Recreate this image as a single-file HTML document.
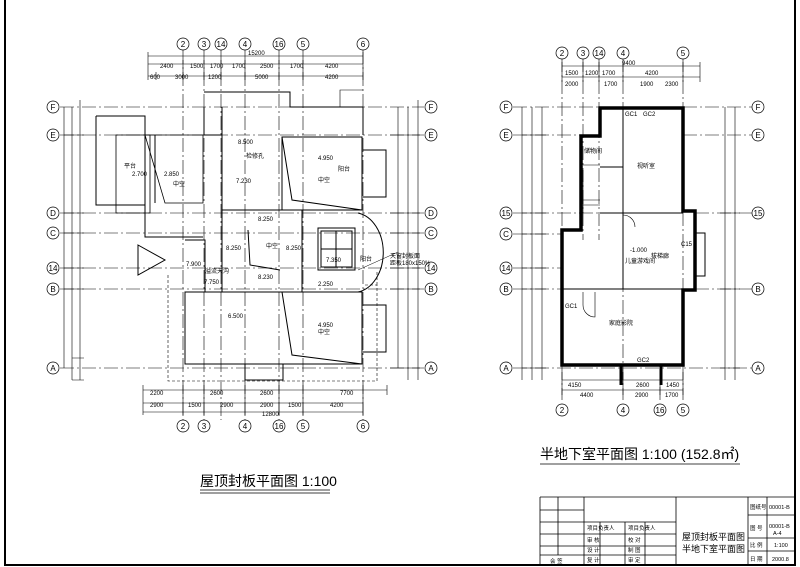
<!DOCTYPE html>
<html><head><meta charset="utf-8"><style>
html,body{margin:0;padding:0;background:#fff}
svg{display:block}
text{font-family:"Liberation Sans","Noto Sans CJK SC",sans-serif;fill:#000}
</style></head><body>
<svg width="800" height="567" viewBox="0 0 800 567" xmlns="http://www.w3.org/2000/svg">
<rect width="800" height="567" fill="#fff"/>
<!-- border -->
<path d="M5 0V565H795V0" fill="none" stroke="#000" stroke-width="2"/>

<!-- LEFT PLAN axes -->
<g stroke="#000" stroke-width="0.6" fill="none">
<!-- vertical axes -->
<path d="M183 50V420M204 50V420M221 50V420M245 50V420M279 50V420M303 50V420M363 50V420" stroke-dasharray="14 3 2 3"/>
<path d="M60 107H424M60 135H424M60 213H424M60 233H424M60 268H424M60 289H424M60 368H424" stroke-dasharray="14 3 2 3"/>
<!-- top dims -->
<path d="M148 56H363M148 64H363M148 76H363M148 52V80M183 60V80M204 60V80M221 60V80M245 60V80M279 60V80M303 60V80M363 52V80M156 72V80"/>
<!-- bottom dims -->
<path d="M143 390H387M143 403H363M143 412H363M143 385V415M387 385V395M183 385V415M204 385V415M245 385V415M279 385V415M303 385V415M363 385V415"/>
<!-- left dims -->
<path d="M64 107V368M72 107V380M80 100V380M64 135H84M64 213H84M64 233H84M64 268H84M64 289H84M72 358H84M72 380H84"/>
<!-- right dims -->
<path d="M398 107V368M408 107V380M418 100V380M390 135H420M390 213H420M390 233H420M390 268H420M390 289H420M390 368H420"/>
</g>
<!-- Left plan walls -->
<g stroke="#000" stroke-width="1" fill="none">
<path d="M96 116H145V237H203"/>
<path d="M96 116V205H145"/>
<path d="M116 135H150V213H116Z" stroke-width="0.8"/>
<path d="M145 135H203V203H165Z" stroke-width="0.8"/>
<path d="M155 135V203"/>
<path d="M204 92H290V107H363V135"/>
<path d="M204 107V135H222"/>
<path d="M222 107V210H302V292"/>
<path d="M282 137H362V210H282Z"/>
<path d="M282 137L292 200L362 210"/>
<path d="M222 210V292H302"/>
<path d="M248 230L250 265L280 270"/>
<path d="M185 292H362V364H185Z"/>
<path d="M282 292L292 355L362 364"/>
<path d="M185 240H205V292H185"/>
<path d="M318 228H355V270H318Z"/><path d="M321 231H352V267H321Z"/><path d="M336 231V267M321 249H352"/>
<path d="M358 213A30 40 0 0 1 358 292"/>
<path d="M363 150H386V197H363M363 305H386V352H363"/>
<path d="M138 245L165 260L138 275Z"/>
<path d="M245 364V380H283V364"/>
</g>
<path d="M168 275V381H377V285H363M377 285V270" fill="none" stroke="#000" stroke-width="0.6" stroke-dasharray="3 2"/>
<path d="M363 90H340V107" fill="none" stroke="#000" stroke-width="0.6"/>
<!-- left axis circles -->
<g fill="#fff" stroke="#000" stroke-width="0.7">
<circle cx="183" cy="44" r="6"/><circle cx="204" cy="44" r="6"/><circle cx="221" cy="44" r="6"/><circle cx="245" cy="44" r="6"/><circle cx="279" cy="44" r="6"/><circle cx="303" cy="44" r="6"/><circle cx="363" cy="44" r="6"/>
<circle cx="183" cy="426" r="6"/><circle cx="204" cy="426" r="6"/><circle cx="245" cy="426" r="6"/><circle cx="279" cy="426" r="6"/><circle cx="303" cy="426" r="6"/><circle cx="363" cy="426" r="6"/>
<circle cx="53" cy="107" r="6"/><circle cx="53" cy="135" r="6"/><circle cx="53" cy="213" r="6"/><circle cx="53" cy="233" r="6"/><circle cx="53" cy="268" r="6"/><circle cx="53" cy="289" r="6"/><circle cx="53" cy="368" r="6"/>
<circle cx="431" cy="107" r="6"/><circle cx="431" cy="135" r="6"/><circle cx="431" cy="213" r="6"/><circle cx="431" cy="233" r="6"/><circle cx="431" cy="268" r="6"/><circle cx="431" cy="289" r="6"/><circle cx="431" cy="368" r="6"/>
</g>
<g font-size="8" text-anchor="middle">
<text x="183" y="47">2</text><text x="204" y="47">3</text><text x="221" y="47">14</text><text x="245" y="47">4</text><text x="279" y="47">16</text><text x="303" y="47">5</text><text x="363" y="47">6</text>
<text x="183" y="429">2</text><text x="204" y="429">3</text><text x="245" y="429">4</text><text x="279" y="429">16</text><text x="303" y="429">5</text><text x="363" y="429">6</text>
<text x="53" y="110">F</text><text x="53" y="138">E</text><text x="53" y="216">D</text><text x="53" y="236">C</text><text x="53" y="271">14</text><text x="53" y="292">B</text><text x="53" y="371">A</text>
<text x="431" y="110">F</text><text x="431" y="138">E</text><text x="431" y="216">D</text><text x="431" y="236">C</text><text x="431" y="271">14</text><text x="431" y="292">B</text><text x="431" y="371">A</text>
</g>
<g font-size="6">
<text x="248" y="55">15200</text><text x="160" y="68">2400</text><text x="190" y="68">1500</text><text x="210" y="68">1700</text><text x="232" y="68">1700</text><text x="260" y="68">2500</text><text x="290" y="68">1700</text><text x="325" y="68">4200</text>
<text x="150" y="79">600</text><text x="175" y="79">3000</text><text x="208" y="79">1200</text><text x="255" y="79">5000</text><text x="325" y="79">4200</text>
<text x="150" y="395">2200</text><text x="210" y="395">2600</text><text x="260" y="395">2600</text><text x="340" y="395">7700</text>
<text x="150" y="407">2900</text><text x="188" y="407">1500</text><text x="220" y="407">2900</text><text x="260" y="407">2900</text><text x="288" y="407">1500</text><text x="330" y="407">4200</text>
<text x="262" y="416">12800</text>
<text x="238" y="144">8.500</text><text x="318" y="160">4.950</text><text x="132" y="176">2.700</text><text x="164" y="176">2.850</text>
<text x="258" y="221">8.250</text><text x="226" y="250">8.250</text><text x="286" y="250">8.250</text><text x="186" y="266">7.900</text><text x="326" y="262">7.350</text>
<text x="258" y="279">8.230</text><text x="204" y="284">7.750</text><text x="318" y="286">2.250</text><text x="228" y="318">6.500</text><text x="318" y="327">4.950</text>
<text x="236" y="183">7.230</text><text x="246" y="158">检修孔</text><text x="266" y="248">中空</text><text x="205" y="273">溢流天沟</text>
<text x="124" y="168">平台</text><text x="173" y="186">中空</text><text x="318" y="182">中空</text><text x="318" y="334">中空</text><text x="338" y="171">阳台</text><text x="360" y="261">阳台</text>
<text x="390" y="258">天窗封板面</text><text x="390" y="265">距板180x150%</text>
</g>
<path d="M358 270L398 252" stroke="#000" stroke-width="0.5"/>

<!-- RIGHT PLAN -->
<g stroke="#000" stroke-width="0.6" fill="none">
<path d="M562 58V400M583 58V240M599 58V240M623 58V400M683 58V400M660 365V400" stroke-dasharray="14 3 2 3"/>
<path d="M513 107H600M683 107H752M513 135H590M683 135H752M513 213H600M695 213H752M513 234H562M513 268H562M513 289H562M695 289H752M513 368H752" stroke-dasharray="14 3 2 3"/>
<path d="M562 66H700M562 77H700M562 62V82M583 62V82M599 62V82M623 62V82M683 62V82M700 62V82"/>
<path d="M562 380H683M562 390H683M562 372V395M623 372V395M660 372V395M683 372V395"/>
<path d="M522 107V380M532 107V380M542 107V380M522 135H546M522 213H546M522 234H546M522 268H546M522 289H546M522 368H546"/>
<path d="M725 107V380M735 107V380M720 213H740M720 289H740M720 368H740"/>
</g>
<path d="M600 108H683V211H695V290H683V365H562V230H581V136H600Z" fill="none" stroke="#000" stroke-width="3.5"/>
<g stroke="#000" stroke-width="1" fill="none">
<path d="M623 108V213M600 167H623M600 213H683M623 213V289M562 289H683M695 233H705V276H695"/>
<path d="M583 165H600M583 170V213M583 200H600M583 205H600" stroke-width="0.6"/>
<path d="M623 215A12 12 0 0 1 635 227" stroke-width="0.6"/>
<path d="M583 292V305A12 12 0 0 0 595 317V292" stroke-width="0.6"/>
<path d="M621 365V385M661 365V385" stroke-width="3"/>
</g>
<g fill="#fff" stroke="#000" stroke-width="0.7">
<circle cx="562" cy="53" r="6"/><circle cx="583" cy="53" r="6"/><circle cx="599" cy="53" r="6"/><circle cx="623" cy="53" r="6"/><circle cx="683" cy="53" r="6"/>
<circle cx="562" cy="410" r="6"/><circle cx="623" cy="410" r="6"/><circle cx="660" cy="410" r="6"/><circle cx="683" cy="410" r="6"/>
<circle cx="506" cy="107" r="6"/><circle cx="506" cy="135" r="6"/><circle cx="506" cy="213" r="6"/><circle cx="506" cy="234" r="6"/><circle cx="506" cy="268" r="6"/><circle cx="506" cy="289" r="6"/><circle cx="506" cy="368" r="6"/>
<circle cx="758" cy="107" r="6"/><circle cx="758" cy="135" r="6"/><circle cx="758" cy="213" r="6"/><circle cx="758" cy="289" r="6"/><circle cx="758" cy="368" r="6"/>
</g>
<g font-size="8" text-anchor="middle">
<text x="562" y="56">2</text><text x="583" y="56">3</text><text x="599" y="56">14</text><text x="623" y="56">4</text><text x="683" y="56">5</text>
<text x="562" y="413">2</text><text x="623" y="413">4</text><text x="660" y="413">16</text><text x="683" y="413">5</text>
<text x="506" y="110">F</text><text x="506" y="138">E</text><text x="506" y="216">15</text><text x="506" y="237">C</text><text x="506" y="271">14</text><text x="506" y="292">B</text><text x="506" y="371">A</text>
<text x="758" y="110">F</text><text x="758" y="138">E</text><text x="758" y="216">15</text><text x="758" y="292">B</text><text x="758" y="371">A</text>
</g>
<g font-size="6">
<text x="622" y="65">9400</text><text x="565" y="75">1500</text><text x="585" y="75">1200</text><text x="602" y="75">1700</text><text x="645" y="75">4200</text>
<text x="565" y="86">2000</text><text x="604" y="86">1700</text><text x="640" y="86">1900</text><text x="665" y="86">2300</text>
<text x="568" y="387">4150</text><text x="636" y="387">2600</text><text x="666" y="387">1450</text><text x="580" y="397">4400</text><text x="635" y="397">2900</text><text x="665" y="397">1700</text>
<text x="637" y="168">视听室</text><text x="584" y="153">储物间</text><text x="630" y="252">-1.000</text><text x="625" y="263">儿童游戏间</text><text x="651" y="258">拔梯廊</text><text x="609" y="325">家庭影院</text>
<text x="625" y="116">GC1</text><text x="643" y="116">GC2</text><text x="565" y="308">GC1</text><text x="637" y="362">GC2</text><text x="681" y="246">C15</text>
</g>

<!-- titles -->
<text x="200" y="486" font-size="14" font-family="Liberation Serif,'Noto Serif CJK SC',serif">屋顶封板平面图 1:100</text>
<path d="M200 490H330M200 493H330" stroke="#000" stroke-width="0.8"/>
<text x="540" y="459" font-size="14" font-family="Liberation Serif,'Noto Serif CJK SC',serif">半地下室平面图  1:100 (152.8㎡)</text>
<path d="M540 464H740" stroke="#000" stroke-width="0.8"/>

<!-- title block -->
<g stroke="#000" stroke-width="0.8" fill="none">
<path d="M540 497H795M540 497V565M558 497V555M584 497V565M676 497V565M748 497V565M767 497V565"/>
<path d="M540 510H584M540 522H584M540 534H584M540 546H584M540 555H584"/>
<path d="M584 522H676M584 534H676M584 546H676M584 555H676M600 522V565M625 522V565M645 522V565"/>
<path d="M748 515H795M748 538H795M748 551H795"/>
</g>
<g font-size="5.5">
<text x="587" y="530">项目负责人</text><text x="628" y="530">项目负责人</text>
<text x="587" y="542">审 核</text><text x="628" y="542">校 对</text>
<text x="587" y="552">设 计</text><text x="628" y="552">制 图</text>
<text x="587" y="562">复 计</text><text x="628" y="562">审 定</text>
<text x="550" y="563">会 签</text>
<text x="750" y="509">图纸号</text><text x="769" y="509">00001-B</text>
<text x="750" y="530">图 号</text><text x="769" y="528">00001-B</text><text x="773" y="535">A-4</text>
<text x="750" y="547">比 例</text><text x="774" y="547">1:100</text>
<text x="750" y="561">日 期</text><text x="772" y="561">2000.8</text>
</g>
<text x="682" y="540" font-size="9" font-family="Liberation Serif,'Noto Serif CJK SC',serif">屋顶封板平面图</text>
<text x="682" y="552" font-size="9" font-family="Liberation Serif,'Noto Serif CJK SC',serif">半地下室平面图</text>
</svg>
</body></html>
